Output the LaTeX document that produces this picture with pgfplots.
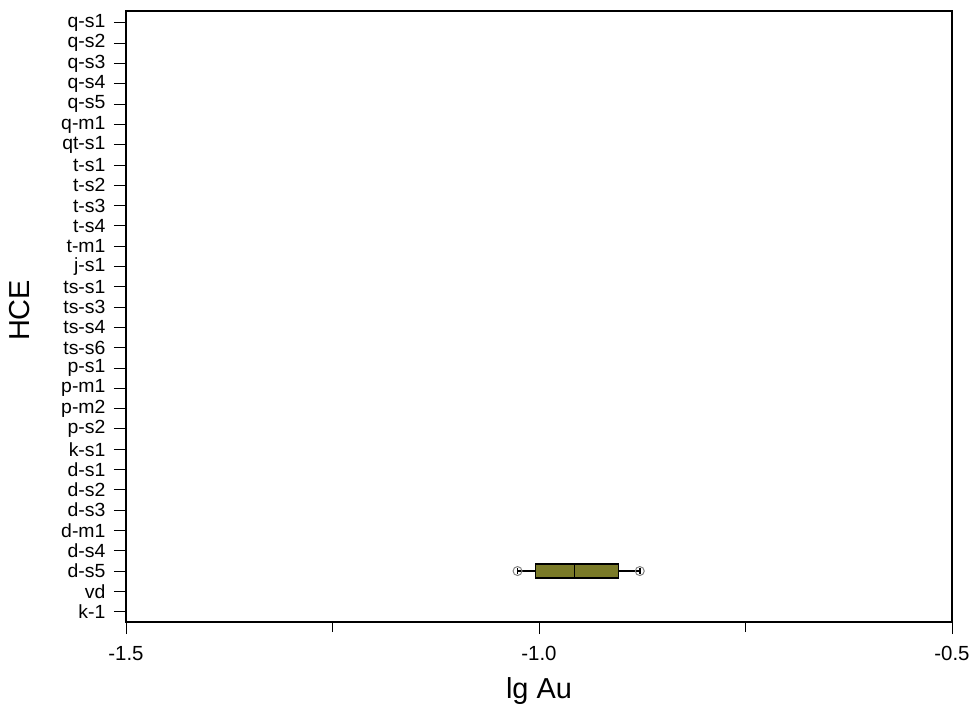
\documentclass[border=0pt]{standalone}
\usepackage{pgfplots}
\pgfplotsset{compat=1.18}
\usepgfplotslibrary{statistics}
\usepackage{fontspec}
\setmainfont{Liberation Sans}
\definecolor{boxolive}{RGB}{122,122,40}
\begin{document}
\begin{tikzpicture}
\useasboundingbox (0,0) rectangle (973bp,716bp);
\begin{axis}[
  at={(126bp,94bp)}, anchor=south west,
  scale only axis, width=826bp, height=611bp,
  xmin=-1.5, xmax=-0.5, ymin=-0.51, ymax=29.59,
  xtick={-1.5,-1.0,-0.5},
  xticklabels={-1.5,-1.0,-0.5},
  minor xtick={-1.25,-0.75},
  ytick={0,...,29},
  yticklabels={k-1,vd,d-s5,d-s4,d-m1,d-s3,d-s2,d-s1,k-s1,p-s2,p-m2,p-m1,p-s1,ts-s6,ts-s4,ts-s3,ts-s1,j-s1,t-m1,t-s4,t-s3,t-s2,t-s1,qt-s1,q-m1,q-s5,q-s4,q-s3,q-s2,q-s1},
  tick align=outside,
  major tick length=12bp, minor tick length=10bp,
  xtick pos=bottom, ytick pos=left,
  tick style={black, line width=1pt},
  axis line style={black, line width=1.5pt},
  ticklabel style={font=\fontsize{20.5}{20.5}\selectfont},
  yticklabel style={xshift=-5bp, font=\fontsize{19.5}{19.5}\selectfont, yscale=0.98},
  xticklabel style={yshift=-9bp},
  xlabel={lg Au}, ylabel={HCE},
  label style={font=\fontsize{29}{29}\selectfont},
  xlabel style={at={(axis description cs:0.5,-0.125)}, anchor=base},
  ylabel style={at={(axis description cs:-0.129,0.51)}, anchor=center},
]
\addplot+[boxplot prepared={
    lower whisker=-1.026, lower quartile=-1.004, median=-0.957,
    upper quartile=-0.904, upper whisker=-0.878,
    draw position=2, box extend=0.69, whisker extend=0.3},
  draw=black, line width=1.5pt, fill=boxolive, solid, mark=none]
  coordinates {};
\addplot[only marks, mark=o, mark size=4.5pt, draw=gray, line width=1pt]
  coordinates {(-1.026,2) (-0.878,2)};
\end{axis}
\end{tikzpicture}
\end{document}
